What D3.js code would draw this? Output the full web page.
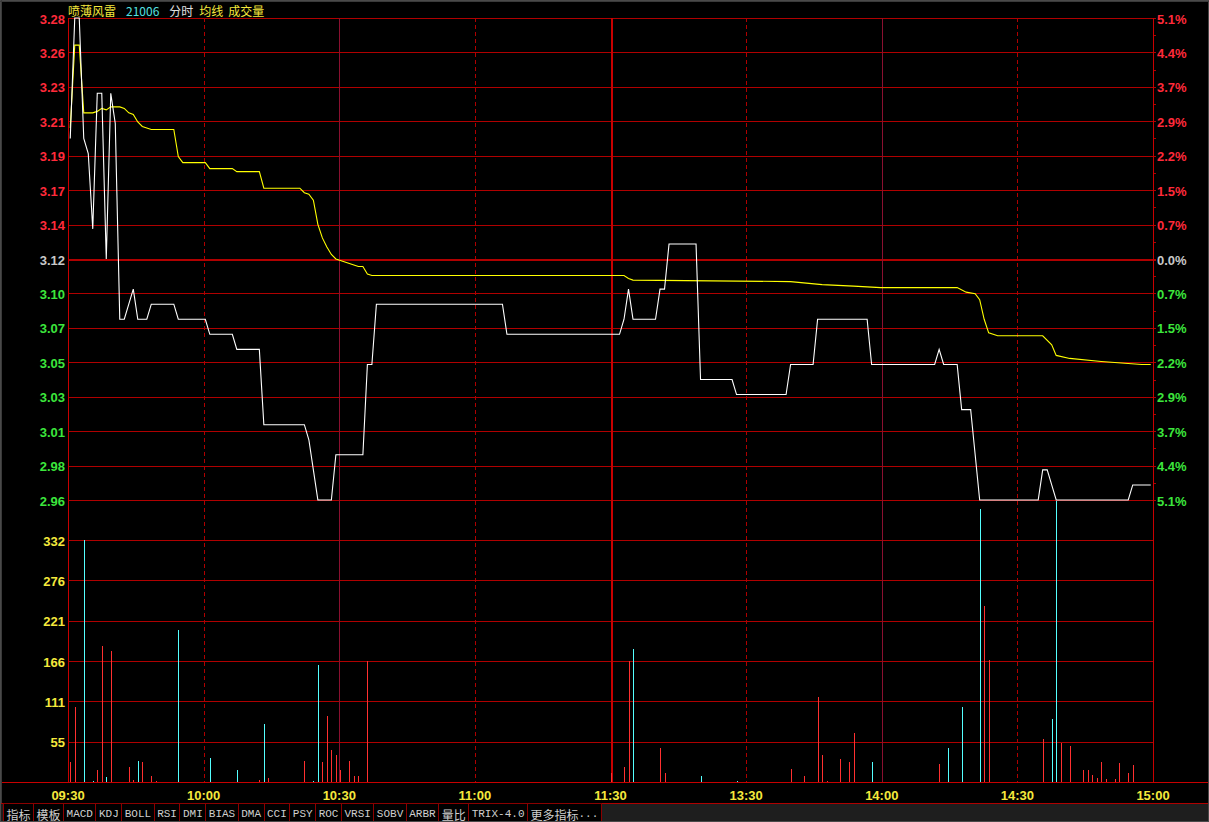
<!DOCTYPE html>
<html><head><meta charset="utf-8">
<script src="https://cdn.jsdelivr.net/npm/d3@7"></script>
<style>body{margin:0;background:#000;overflow:hidden}svg{display:block}</style>
</head><body><svg id="c" width="1209" height="822"></svg>
<script>
// ---------------- DATA ----------------
const stockName = "喷薄风雷";
const stockCode = "21006";
const legendItems = ["分时", "均线", "成交量"];
const preClose = 3.12;
const priceMax = 3.28;
const priceMin = 2.96;
const priceTickLabels = ["3.28","3.26","3.23","3.21","3.19","3.17","3.14","3.12","3.10","3.07","3.05","3.03","3.01","2.98","2.96"];
const pctTickLabels = ["5.1%","4.4%","3.7%","2.9%","2.2%","1.5%","0.7%","0.0%","0.7%","1.5%","2.2%","2.9%","3.7%","4.4%","5.1%"];
const volMax = 332;
const volTickLabels = ["55","111","166","221","276","332"];
const timeLabels = ["09:30","10:00","10:30","11:00","11:30","13:30","14:00","14:30","15:00"];
const timeLabelMinutes = [0, 30, 60, 90, 120, 150, 180, 210, 240];
const tabLabels = ["指标","模板","MACD","KDJ","BOLL","RSI","DMI","BIAS","DMA","CCI","PSY","ROC","VRSI","SOBV","ARBR","量比","TRIX-4.0","更多指标..."];

// price line (minute index, price)
const priceMinutes = [0,1,2,3,4,5,6,7,8,9,10,11,12,13,14,15,17,18,23,24,30,31,36,37,42,43,52,53,54,55,58,59,65,66,67,68,96,97,122,123,124,125,130,131,132,133,139,140,147,148,159,160,165,166,177,178,192,193,194,197,198,200,201,202,215,216,217,218,219,235,236,240];
const priceValues  = [3.20,3.28,3.28,3.20,3.19,3.14,3.23,3.23,3.12,3.23,3.21,3.08,3.08,3.09,3.10,3.08,3.08,3.09,3.09,3.08,3.08,3.07,3.07,3.06,3.06,3.01,3.01,3.00,2.98,2.96,2.96,2.99,2.99,3.05,3.05,3.09,3.09,3.07,3.07,3.08,3.10,3.08,3.08,3.10,3.10,3.13,3.13,3.04,3.04,3.03,3.03,3.05,3.05,3.08,3.08,3.05,3.05,3.06,3.05,3.05,3.02,3.02,2.99,2.96,2.96,2.98,2.98,2.97,2.96,2.96,2.97,2.97];

// average line (minute index, price)
const avgMinutes = [0,1,2,3,5,6,7,8,9,11,12,13,14,15,16,17,18,23,24,25,30,31,36,37,42,43,51,52,53,54,55,56,57,58,59,60,61,62,63,64,65,66,67,122,123,124,125,160,167,174,180,197,199,201,202,203,204,206,216,218,219,222,229,238,240];
const avgValues  = [3.207,3.262,3.262,3.217,3.217,3.218,3.220,3.219,3.221,3.221,3.220,3.217,3.216,3.211,3.208,3.207,3.206,3.206,3.188,3.184,3.184,3.180,3.180,3.178,3.178,3.167,3.167,3.164,3.163,3.159,3.143,3.134,3.128,3.123,3.120,3.119,3.118,3.117,3.116,3.115,3.115,3.110,3.109,3.109,3.109,3.107,3.106,3.105,3.103,3.102,3.101,3.101,3.098,3.097,3.093,3.080,3.071,3.069,3.069,3.063,3.056,3.054,3.052,3.050,3.050];

// volume bars (minute index, volume, 1 = up/red, 0 = down/cyan)
const volMinutes = [0,1,3,5,6,7,8,9,13,14,15,16,18,19,24,31,37,42,43,44,52,54,55,56,57,58,59,60,62,63,64,66,120,123,124,125,131,132,140,148,160,163,166,167,168,171,173,174,178,193,195,198,202,203,204,216,218,219,220,222,225,226,227,228,229,230,232,233,235,236];
const volValues  = [28,103,332,2,16,186,7,180,21,3,29,28,8,2,208,33,16,3,80,5,29,2,160,28,91,44,37,17,29,8,8,166,12,21,166,183,46,13,8,2,18,8,117,37,2,32,28,67,27,25,47,103,375,241,168,59,87,386,53,50,16,16,10,6,28,4,4,26,12,23];
const volUp      = [1,1,0,0,1,1,0,1,1,1,0,1,1,1,0,0,0,1,0,1,1,0,0,1,1,1,1,1,1,1,1,1,1,1,1,0,1,1,0,0,1,1,1,1,1,1,1,1,0,1,0,0,0,1,1,1,0,0,1,1,1,1,1,1,1,1,1,1,1,1];

// ---------------- LAYOUT ----------------
const W = 1209, H = 822;
const L = 68, R = 1153;
const priceTop = 18, priceBottom = 500;
const volTop = 540, volBottom = 782;

const C = {
  grid: "#b00000", axis: "#c80000", up: "#ff3030", down: "#54ffff",
  red: "#ff2a3a", green: "#3ce63c", grey: "#c8c8c8", yellow: "#f5e83c", cyan: "#54e0e0"
};

const svg = d3.select("#c");
svg.append("rect").attr("width", W).attr("height", H).attr("fill", "#000");

const xTime = d3.scaleLinear().domain([0, 240]).range([L, R]);
const xSlot = d3.scaleLinear().domain([0, 241]).range([L, R]);
const xData = m => xSlot(m + 0.5);
const yPrice = d3.scaleLinear().domain([priceMin, priceMax]).range([priceBottom, priceTop]);
const yVol = d3.scaleLinear().domain([0, volMax]).range([volBottom, volTop]);

const nP = priceTickLabels.length;
const priceTicks = d3.range(nP).map(i => priceMax - i * (priceMax - priceMin) / (nP - 1));
const volTicks = volTickLabels.map((d, i) => (i + 1) * volMax / volTickLabels.length);

const g = svg.append("g").attr("shape-rendering", "crispEdges");

// horizontal price grid
g.selectAll(".hp").data(priceTicks).join("line")
  .attr("x1", L).attr("x2", R + 3)
  .attr("y1", d => Math.round(yPrice(d)) + 0.5).attr("y2", d => Math.round(yPrice(d)) + 0.5)
  .attr("stroke", C.grid)
  .attr("stroke-width", (d, i) => i === (nP - 1) / 2 ? 2 : 1);

// minor ticks on the right axis
g.selectAll(".mt").data(priceTicks.slice(0, -1)).join("line")
  .attr("x1", R).attr("x2", R + 3)
  .attr("y1", (d, i) => Math.round((yPrice(d) + yPrice(priceTicks[i + 1])) / 2) + 0.5)
  .attr("y2", (d, i) => Math.round((yPrice(d) + yPrice(priceTicks[i + 1])) / 2) + 0.5)
  .attr("stroke", C.grid);

// horizontal volume grid
g.selectAll(".hv").data(volTicks).join("line")
  .attr("x1", L).attr("x2", R)
  .attr("y1", d => Math.round(yVol(d)) + 0.5).attr("y2", d => Math.round(yVol(d)) + 0.5)
  .attr("stroke", C.grid);

// vertical time grid
const vMinutes = [30, 60, 90, 120, 150, 180, 210];
g.selectAll(".vg").data(vMinutes).join("line")
  .attr("x1", d => Math.round(xTime(d)) + 0.5).attr("x2", d => Math.round(xTime(d)) + 0.5)
  .attr("y1", priceTop).attr("y2", volBottom)
  .attr("stroke", d => d === 120 ? C.axis : (d % 60 === 0 ? "#8a1030" : C.grid))
  .attr("stroke-width", d => d === 120 ? 2 : 1)
  .attr("stroke-dasharray", d => (d % 60 === 30 ? "4,3" : null));

// axes
g.append("line").attr("x1", L + 0.5).attr("x2", L + 0.5).attr("y1", priceTop).attr("y2", volBottom).attr("stroke", C.axis);
g.append("line").attr("x1", R + 0.5).attr("x2", R + 0.5).attr("y1", priceTop).attr("y2", volBottom).attr("stroke", C.axis);
g.append("line").attr("x1", 0).attr("x2", W).attr("y1", volBottom + 0.5).attr("y2", volBottom + 0.5).attr("stroke", C.axis);

// volume bars
const bars = volMinutes.map((m, i) => ({ m, v: volValues[i], up: volUp[i] }));
g.selectAll(".vb").data(bars).join("line")
  .attr("x1", d => Math.round(xData(d.m)) + 0.5).attr("x2", d => Math.round(xData(d.m)) + 0.5)
  .attr("y1", volBottom).attr("y2", d => Math.round(yVol(d.v)))
  .attr("stroke", d => d.up ? C.up : C.down);

// average line
const avgPts = avgMinutes.map((m, i) => [xData(m), yPrice(avgValues[i])]);
svg.append("path").attr("d", d3.line()(avgPts)).attr("fill", "none")
  .attr("stroke", "#ffff00").attr("stroke-width", 1.1);

// price line
const pricePts = priceMinutes.map((m, i) => [xData(m), yPrice(priceValues[i])]);
svg.append("path").attr("d", d3.line()(pricePts)).attr("fill", "none")
  .attr("stroke", "#ffffff").attr("stroke-width", 1.1);

// left price labels
const numFont = '"Liberation Sans", Arial, sans-serif';
const colorFor = i => i < (nP - 1) / 2 ? C.red : (i === (nP - 1) / 2 ? C.grey : C.green);
svg.selectAll(".pl").data(priceTickLabels).join("text")
  .attr("x", L - 3).attr("y", (d, i) => yPrice(priceTicks[i]) + 1)
  .attr("text-anchor", "end").attr("dominant-baseline", "central")
  .attr("font-family", numFont).attr("font-weight", "bold").attr("font-size", 13)
  .attr("fill", (d, i) => colorFor(i)).text(d => d);

svg.selectAll(".pr").data(pctTickLabels).join("text")
  .attr("x", R + 4).attr("y", (d, i) => yPrice(priceTicks[i]) + 1)
  .attr("text-anchor", "start").attr("dominant-baseline", "central")
  .attr("font-family", numFont).attr("font-weight", "bold").attr("font-size", 13)
  .attr("fill", (d, i) => colorFor(i)).text(d => d);

// volume labels
svg.selectAll(".vl").data(volTickLabels).join("text")
  .attr("x", L - 3).attr("y", (d, i) => yVol(volTicks[i]) + 1)
  .attr("text-anchor", "end").attr("dominant-baseline", "central")
  .attr("font-family", numFont).attr("font-weight", "bold").attr("font-size", 13)
  .attr("fill", C.yellow).text(d => d);

// time labels
svg.selectAll(".tl").data(timeLabels).join("text")
  .attr("x", (d, i) => xTime(timeLabelMinutes[i])).attr("y", 795)
  .attr("text-anchor", "middle").attr("dominant-baseline", "central")
  .attr("font-family", numFont).attr("font-weight", "bold").attr("font-size", 13)
  .attr("fill", C.yellow).text(d => d);

// title
const cjk = '"Noto Sans CJK SC", "Noto Sans", sans-serif';
const title = svg.append("text").attr("x", L).attr("y", 10)
  .attr("dominant-baseline", "central").attr("font-family", cjk).attr("font-size", 12);
title.append("tspan").attr("fill", C.yellow).text(stockName);
title.append("tspan").attr("fill", C.cyan).attr("dx", 10).text(stockCode);
title.append("tspan").attr("fill", "#e0e0e0").attr("dx", 10).text(legendItems[0]);
title.append("tspan").attr("fill", C.yellow).attr("dx", 6).text(legendItems[1]);
title.append("tspan").attr("fill", C.yellow).attr("dx", 5).text(legendItems[2]);

// bottom tab bar
const tabTop = 803, tabH = 19;
svg.append("rect").attr("x", 0.5).attr("y", tabTop + 0.5).attr("width", W - 1).attr("height", tabH - 1)
  .attr("fill", "#1e1e1e").attr("stroke", C.grid).attr("shape-rendering", "crispEdges");
const tabLayer = svg.append("g");
let tx = 3;
tabLabels.forEach(lbl => {
  const rect = tabLayer.append("rect");
  const t = tabLayer.append("text").attr("y", tabTop + tabH / 2 + 1).attr("dominant-baseline", "central")
    .attr("font-family", '"Liberation Mono", monospace').attr("font-size", 11).attr("fill", "#cfcfcf")
    .attr("text-anchor", "middle");
  (lbl.match(/[\u4e00-\u9fff]+|[^\u4e00-\u9fff]+/g) || []).forEach(run => {
    const isCjk = /[\u4e00-\u9fff]/.test(run);
    t.append("tspan").text(run)
      .attr("font-family", isCjk ? '"Noto Sans CJK SC", sans-serif' : '"Liberation Mono", monospace')
      .attr("font-size", isCjk ? 12 : 11);
  });
  const w = t.node().getComputedTextLength() + 6;
  rect.attr("x", tx + 0.5).attr("y", tabTop + 0.5)
    .attr("width", w).attr("height", tabH - 1).attr("fill", "#000")
    .attr("stroke", "#8a0000").attr("shape-rendering", "crispEdges");
  t.attr("x", tx + w / 2 + 0.5);
  tx += w;
});

// window frame
svg.append("rect").attr("x", 0.5).attr("y", 0.5).attr("width", W - 1).attr("height", H - 1)
  .attr("fill", "none").attr("stroke", "#4a4a4a").attr("shape-rendering", "crispEdges");
svg.append("line").attr("x1", 0).attr("x2", W).attr("y1", 1.5).attr("y2", 1.5).attr("stroke", "#3a3a3a");
svg.append("line").attr("x1", 1.5).attr("x2", 1.5).attr("y1", 0).attr("y2", 803).attr("stroke", "#3a3a3a");
</script>
</body></html>
